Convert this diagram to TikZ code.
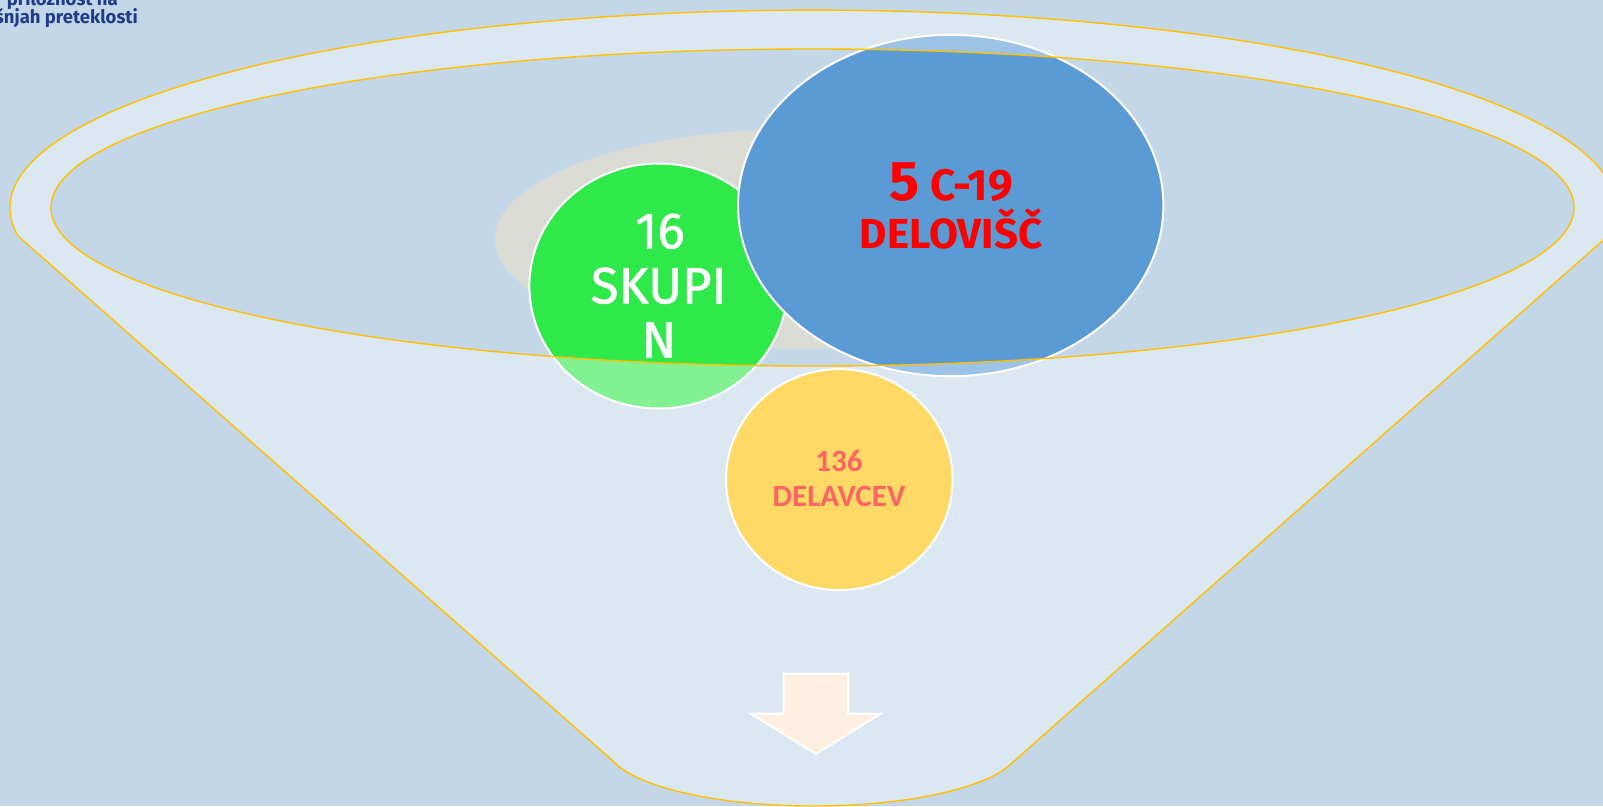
\documentclass[tikz,border=0pt]{standalone}
\usepackage{fontspec}
\setmainfont{Fira Sans}
\newfontfamily\carlito{Carlito}
\newfontfamily\firasemi[FakeBold=1.2]{Fira Sans}
\definecolor{bgc}{RGB}{196,215,232}
\definecolor{grayell}{RGB}{218,219,212}
\definecolor{greenc}{RGB}{47,232,74}
\definecolor{bluec}{RGB}{91,155,213}
\definecolor{yellowc}{RGB}{255,217,102}
\definecolor{coral}{RGB}{255,99,99}
\definecolor{orangeline}{RGB}{255,192,0}
\definecolor{arrowfill}{RGB}{253,240,224}
\definecolor{titleblue}{RGB}{31,60,136}
\tikzset{
  bubble/.style={draw=white, line width=2pt},
  funnelbody/.style={fill=white, fill opacity=0.4, draw=orangeline, draw opacity=1, line width=1.4pt, even odd rule},
  wtext/.style={inner sep=0pt, anchor=base, text=white},
}
\begin{document}
\begin{tikzpicture}[x=1pt,y=-1pt]
\useasboundingbox (0,0) rectangle (1603,806);
\clip (0,0) rectangle (1603,806);
\fill[bgc] (0,0) rectangle (1603,806);
% background grey ellipse
\fill[grayell] (800,239) ellipse [x radius=305pt, y radius=110pt];
% circles behind funnel
\draw[bubble, fill=greenc] (658.4,286) ellipse [x radius=129pt, y radius=122.5pt];
\coordinate (gc) at (658.4,286);
\draw[bubble, fill=bluec] (950.7,205.5) ellipse [x radius=212.7pt, y radius=170.7pt];
\coordinate (bc) at (950.7,205.5);
% funnel
\coordinate (fl) at (18,236);
\coordinate (fbl) at (614,762);
\coordinate (fbr) at (1013,762);
\path[funnelbody] (fl) arc[start angle=188.1, end angle=-8.1, x radius=803pt, y radius=198pt]
   -- (fbr) arc[start angle=-15, end angle=-165, x radius=206.5pt, y radius=59.4pt] -- cycle
   (812.5,207.5) ellipse [x radius=761.5pt, y radius=158.5pt];
% yellow circle
\draw[bubble, fill=yellowc] (839.3,479.6) ellipse [x radius=113.3pt, y radius=110.5pt];
% arrow
\draw[draw=white, line width=2pt, fill=arrowfill, line join=miter]
  (783.5,673.5) -- (848,673.5) -- (848,713.5) -- (881,713.5) -- (816,754) -- (750.5,713.5) -- (783.5,713.5) -- cycle;
% texts
\node[wtext, font=\firasemi] (g1) at (660,248.3) {\fontsize{51}{55}\selectfont 16};
\node[wtext, font=\firasemi] (g2) at (658.7,303.3) {\fontsize{51}{55}\selectfont SKUPI};
\node[wtext, font=\firasemi] (g3) at (659,357.5) {\fontsize{51}{55}\selectfont N};
\node[wtext, text=red, font=\bfseries] (b1) at (951.4,200) {\fontsize{56}{56}\selectfont 5\fontsize{44}{44}\selectfont{} C-19};
\node[wtext, text=red, font=\bfseries] (b2) at (951,248.3) {\fontsize{42}{48}\selectfont DELOVIŠČ};
\node[wtext, text=coral, font=\carlito\bfseries] (y1) at (839,471.7) {\fontsize{31}{35}\selectfont 136};
\node[wtext, text=coral, font=\carlito\bfseries] (y2) at (839,506.7) {\fontsize{31}{35}\selectfont DELAVCEV};
% top-left title fragment
\node[inner sep=0pt, anchor=base east, text=titleblue, font=\bfseries] (t1) at (118,5) {\fontsize{18.5}{19}\selectfont priložnost na};
\node[inner sep=0pt, anchor=base east, text=titleblue, font=\bfseries] (t2) at (138,23.5) {\fontsize{18.5}{19}\selectfont izkušnjah preteklosti};
\end{tikzpicture}
\end{document}
